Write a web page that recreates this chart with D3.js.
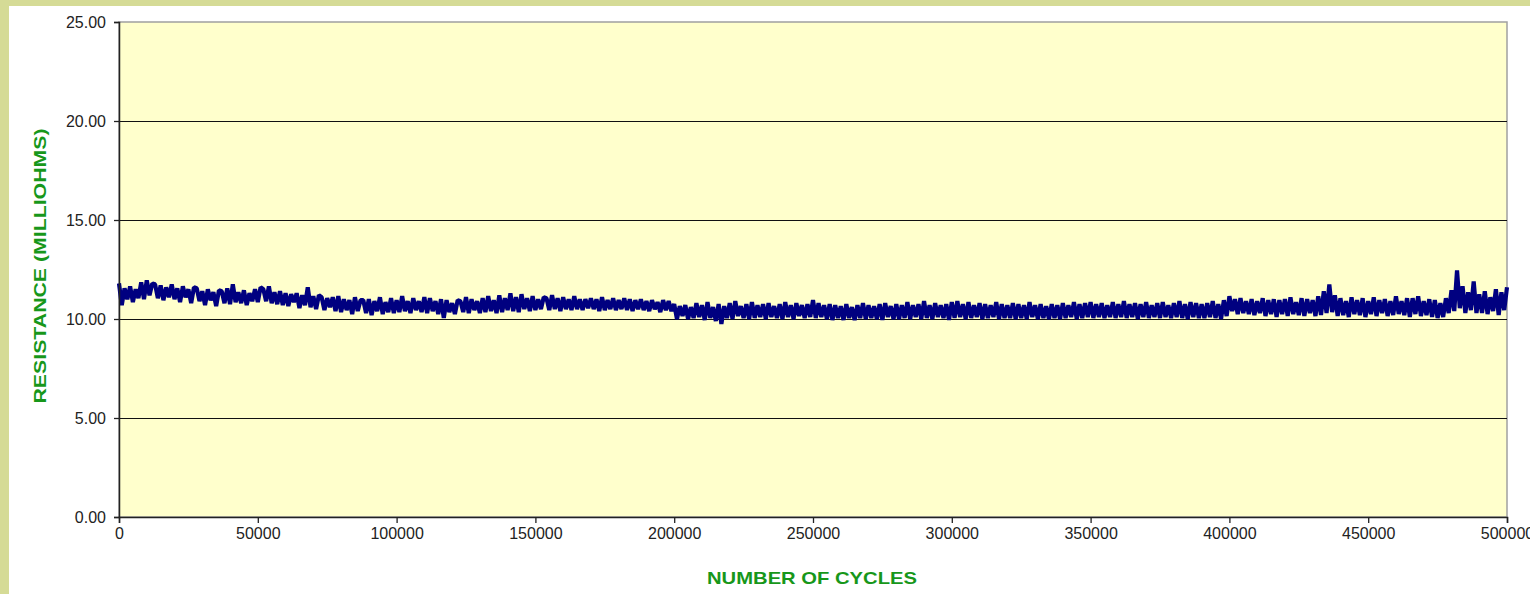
<!DOCTYPE html>
<html>
<head>
<meta charset="utf-8">
<script src="https://cdn.jsdelivr.net/npm/d3@7"></script>
<style>
    body { margin: 0; background: #d5db96; }
    #chart { position: absolute; left: 9px; top: 6px; }
    .tick text { font-family: "Liberation Sans", Arial, sans-serif; font-size: 16px; fill: #222; }
    .axis-title { font-family: "Liberation Sans", Arial, sans-serif; font-weight: bold; font-size: 17px; fill: #17971a; }
</style>
</head>
<body>
<div id="chart"></div>
<script>
// y ticks (milliohms)
let yTicks = [0, 5, 10, 15, 20, 25];
// x ticks (cycles)
let xTicks = [0, 50000, 100000, 150000, 200000, 250000, 300000, 350000, 400000, 450000, 500000];

// cycle count of each reading, one reading every 1000 cycles
let cycles = d3.range(0, 500001, 1000);

// resistance readings, milliohms (10 per row)
let resistance = [
    11.8, 10.7, 11.55, 11.0, 11.65, 10.85, 11.5, 11.05, 11.85, 11.0,
    11.95, 11.2, 11.8, 11.75, 11.05, 11.7, 10.95, 11.6, 11.1, 11.75,
    11.0, 11.55, 10.85, 11.65, 11.1, 11.5, 10.8, 11.6, 11.55, 10.9,
    11.4, 10.7, 11.5, 10.95, 11.35, 10.65, 11.45, 11.4, 10.8, 11.55,
    10.75, 11.75, 10.85, 11.35, 10.8, 11.45, 10.7, 11.3, 10.9, 11.5,
    10.85, 11.6, 11.5, 10.9, 11.65, 10.8, 11.35, 10.75, 11.4, 10.7,
    11.3, 10.65, 11.25, 10.85, 11.3, 10.55, 11.2, 10.7, 11.6, 10.6,
    11.15, 10.5, 11.2, 11.1, 10.45, 11.05, 10.6, 11.1, 10.4, 11.15,
    10.35, 11.0, 10.45, 10.95, 10.25, 11.1, 10.4, 10.95, 10.95, 10.3,
    11.0, 10.2, 10.9, 10.4, 11.1, 10.25, 10.85, 10.35, 11.05, 10.3,
    10.95, 10.35, 11.15, 10.4, 10.9, 10.3, 11.05, 10.45, 10.9, 10.35,
    11.1, 10.3, 11.05, 10.4, 10.9, 10.25, 11.0, 10.05, 10.95, 10.35,
    10.8, 10.25, 10.95, 10.9, 10.35, 11.1, 10.3, 11.0, 10.45, 10.9,
    10.3, 11.05, 10.35, 11.15, 10.4, 10.95, 10.3, 11.2, 10.35, 11.05,
    10.45, 11.3, 10.4, 11.1, 10.35, 11.25, 10.5, 11.05, 10.4, 11.15,
    10.45, 11.0, 10.5, 11.1, 11.05, 10.45, 11.2, 10.5, 11.05, 10.4,
    11.1, 10.5, 11.0, 10.45, 11.15, 10.5, 11.0, 10.45, 11.0, 10.55,
    11.05, 10.5, 11.0, 10.4, 11.1, 10.45, 10.95, 10.5, 11.05, 10.45,
    10.95, 10.5, 11.05, 10.45, 11.0, 10.4, 10.95, 10.5, 11.0, 10.45,
    10.9, 10.4, 10.95, 10.5, 10.85, 10.35, 10.95, 10.45, 10.9, 10.4,
    10.75, 10.0, 10.65, 10.15, 10.7, 10.0, 10.6, 10.05, 10.8, 10.1,
    10.7, 9.95, 10.85, 10.05, 10.6, 9.9, 10.75, 9.75, 10.65, 10.05,
    10.8, 10.0, 10.9, 10.15, 10.65, 10.05, 10.75, 10.0, 10.85, 10.05,
    10.7, 10.1, 10.75, 10.0, 10.8, 10.1, 10.65, 10.05, 10.75, 10.0,
    10.85, 10.1, 10.7, 10.0, 10.8, 10.15, 10.7, 10.05, 10.75, 10.1,
    10.95, 10.05, 10.8, 10.1, 10.7, 10.0, 10.75, 9.95, 10.7, 10.05,
    10.65, 9.95, 10.75, 10.05, 10.6, 9.95, 10.7, 10.05, 10.8, 10.0,
    10.7, 10.05, 10.65, 10.0, 10.75, 9.95, 10.8, 10.1, 10.65, 10.0,
    10.75, 10.0, 10.7, 10.05, 10.85, 10.0, 10.7, 10.1, 10.75, 10.0,
    10.9, 10.05, 10.7, 10.0, 10.8, 10.1, 10.7, 10.05, 10.75, 9.95,
    10.85, 10.05, 10.9, 10.1, 10.75, 10.0, 10.85, 10.05, 10.7, 10.1,
    10.8, 10.0, 10.75, 10.05, 10.7, 10.1, 10.85, 10.0, 10.75, 10.05,
    10.7, 10.05, 10.8, 10.0, 10.75, 10.05, 10.7, 10.0, 10.85, 10.1,
    10.7, 10.0, 10.75, 10.05, 10.65, 10.0, 10.75, 10.05, 10.7, 10.0,
    10.8, 10.05, 10.7, 10.1, 10.85, 10.0, 10.75, 10.05, 10.8, 10.1,
    10.85, 10.05, 10.75, 10.1, 10.8, 10.05, 10.7, 10.1, 10.85, 10.05,
    10.75, 10.1, 10.9, 10.05, 10.75, 10.1, 10.8, 10.0, 10.75, 10.1,
    10.85, 10.05, 10.7, 10.1, 10.8, 10.05, 10.85, 10.1, 10.7, 10.05,
    10.8, 10.1, 10.9, 10.05, 10.75, 10.0, 10.85, 10.1, 10.8, 10.05,
    10.75, 10.05, 10.8, 10.1, 10.9, 10.05, 10.75, 10.0, 10.95, 10.15,
    11.15, 10.4, 11.0, 10.25, 11.05, 10.3, 10.9, 10.25, 11.0, 10.2,
    10.9, 10.3, 11.05, 10.15, 10.95, 10.25, 11.0, 10.1, 10.95, 10.25,
    11.0, 10.15, 11.1, 10.25, 10.85, 10.2, 11.05, 10.15, 11.0, 10.3,
    10.95, 10.15, 11.15, 10.2, 11.4, 10.3, 11.75, 10.35, 11.2, 10.15,
    11.05, 10.2, 10.9, 10.1, 11.1, 10.25, 10.95, 10.2, 11.05, 10.1,
    10.9, 10.25, 11.1, 10.15, 10.95, 10.3, 11.0, 10.15, 10.9, 10.2,
    11.15, 10.25, 10.9, 10.2, 11.05, 10.1, 11.05, 10.25, 11.15, 10.15,
    10.9, 10.2, 11.0, 10.1, 10.95, 10.05, 10.8, 10.1, 11.05, 10.3,
    11.45, 10.4, 12.45, 10.55, 11.65, 10.3, 11.35, 10.45, 11.9, 10.3,
    11.25, 10.3, 11.4, 10.25, 11.1, 10.4, 11.5, 10.2, 11.35, 10.45,
    11.6
];

let margin = {top: 16, left: 110};
let svgWidth = 1521, svgHeight = 588;
let plotWidth = 1388, plotHeight = 495;

let svg = d3.select("#chart").append("svg")
    .attr("width", svgWidth)
    .attr("height", svgHeight)
    .style("background", "#fff")
    .style("display", "block");

let g = svg.append("g")
    .attr("transform", "translate(" + margin.left + "," + margin.top + ")");

let xScale = d3.scaleLinear().domain([0, 500000]).range([0, plotWidth]);
let yScale = d3.scaleLinear().domain([0, 25]).range([plotHeight, 0]);

// plot area
g.append("rect")
    .attr("width", plotWidth)
    .attr("height", plotHeight)
    .attr("fill", "#ffffcc")
    .attr("stroke", "#a0a0a0")
    .attr("stroke-width", 1.5);

// gridlines
g.selectAll(".grid")
    .data(yTicks.filter(d => d > 0 && d < 25))
    .enter().append("line")
    .attr("class", "grid")
    .attr("x1", 0)
    .attr("x2", plotWidth)
    .attr("y1", d => Math.round(yScale(d)) + 0.5)
    .attr("y2", d => Math.round(yScale(d)) + 0.5)
    .attr("stroke", "#111")
    .attr("stroke-width", 1);

// data trace
let lineGen = d3.line()
    .x((d, i) => xScale(cycles[i]))
    .y(d => yScale(d));

g.append("path")
    .datum(resistance)
    .attr("d", lineGen)
    .attr("fill", "none")
    .attr("stroke", "#000080")
    .attr("stroke-width", 4.2)
    .attr("stroke-linejoin", "bevel");

// axes
let yAxis = d3.axisLeft(yScale)
    .tickValues(yTicks)
    .tickFormat(d3.format(".2f"))
    .tickSize(5)
    .tickPadding(8);

let xAxis = d3.axisBottom(xScale)
    .tickValues(xTicks)
    .tickFormat(d3.format("d"))
    .tickSize(6)
    .tickPadding(5);

let yAx = g.append("g").attr("class", "axis").call(yAxis);
let xAx = g.append("g").attr("class", "axis")
    .attr("transform", "translate(0," + plotHeight + ")")
    .call(xAxis);

g.selectAll(".axis .domain").attr("stroke", "#222").attr("stroke-width", 1.5);
g.selectAll(".axis .tick line").attr("stroke", "#222").attr("stroke-width", 1.3);

// axis titles
svg.append("text")
    .attr("class", "axis-title")
    .attr("text-anchor", "middle")
    .attr("x", 803)
    .attr("y", 578)
    .attr("textLength", 210)
    .attr("lengthAdjust", "spacingAndGlyphs")
    .text("NUMBER OF CYCLES");

svg.append("text")
    .attr("class", "axis-title")
    .attr("text-anchor", "middle")
    .attr("transform", "translate(37,260) rotate(-90)")
    .attr("textLength", 275)
    .attr("lengthAdjust", "spacingAndGlyphs")
    .text("RESISTANCE (MILLIOHMS)");
</script>
</body>
</html>
